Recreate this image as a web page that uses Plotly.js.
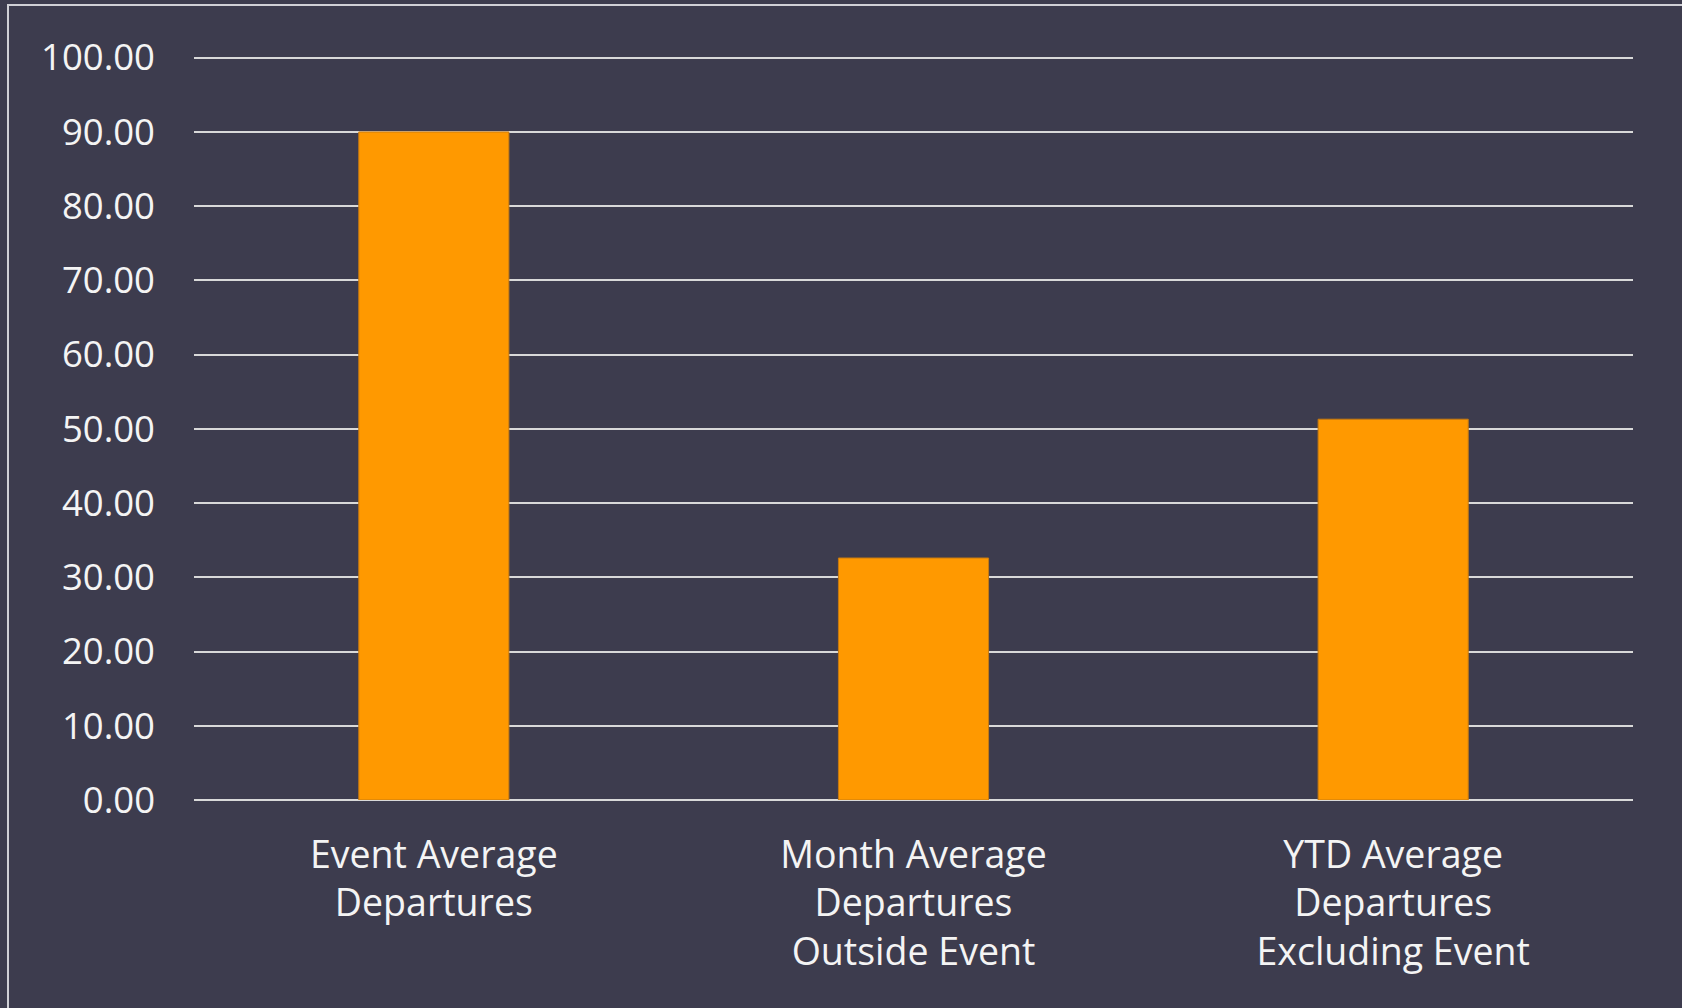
<!DOCTYPE html>
<html>
<head>
<meta charset="utf-8">
<script src="https://cdn.plot.ly/plotly-3.0.1.min.js"></script>
<style>
  html, body { margin: 0; padding: 0; background: #3d3c4e; overflow: hidden; }
  #wrap { position: relative; width: 1682px; height: 1008px; }
  #chart { width: 1682px; height: 1008px; }
  #frame { position: absolute; left: 7px; top: 4px; width: 1700px; height: 1100px;
           border-top: 2px solid #d0d0d6; border-left: 2px solid #d0d0d6; pointer-events: none; }
</style>
</head>
<body>
<div id="wrap">
  <div id="chart"></div>
  <div id="frame"></div>
</div>
<script>
const categories = [
  "Event Average<br>Departures",
  "Month Average<br>Departures<br>Outside Event",
  "YTD Average<br>Departures<br>Excluding Event"
];
const values = [90.0, 32.6, 51.3];
const tickValues = [0, 10, 20, 30, 40, 50, 60, 70, 80, 90, 100];

const trace = {
  type: "bar",
  x: categories,
  y: values,
  marker: { color: "#ff9900", line: { color: "#c77a10", width: 1 } },
  hoverinfo: "x+y"
};

const layout = {
  width: 1682,
  height: 1008,
  paper_bgcolor: "#3d3c4e",
  plot_bgcolor: "#3d3c4e",
  margin: { l: 194, r: 49, t: 54, b: 208 },
  bargap: 0.687,
  showlegend: false,
  font: { family: "Open Sans, sans-serif", color: "#f4f4f4", size: 36 },
  xaxis: {
    type: "category",
    showgrid: false,
    zeroline: false,
    showline: false,
    ticks: "",
    tickfont: { size: 37.5, color: "#f4f4f4" },
    ticklabelstandoff: 29
  },
  yaxis: {
    range: [0, 100.5],
    tickvals: tickValues,
    tickformat: ".2f",
    showgrid: true,
    gridcolor: "#d9d9d9",
    gridwidth: 2,
    zeroline: true,
    zerolinecolor: "#d9d9d9",
    zerolinewidth: 2,
    showline: false,
    ticks: "",
    ticklabelstandoff: 38,
    tickfont: { size: 36.5, color: "#f4f4f4" },
    fixedrange: true
  }
};

Plotly.newPlot("chart", [trace], layout, { displayModeBar: false, staticPlot: true });
</script>
</body>
</html>
